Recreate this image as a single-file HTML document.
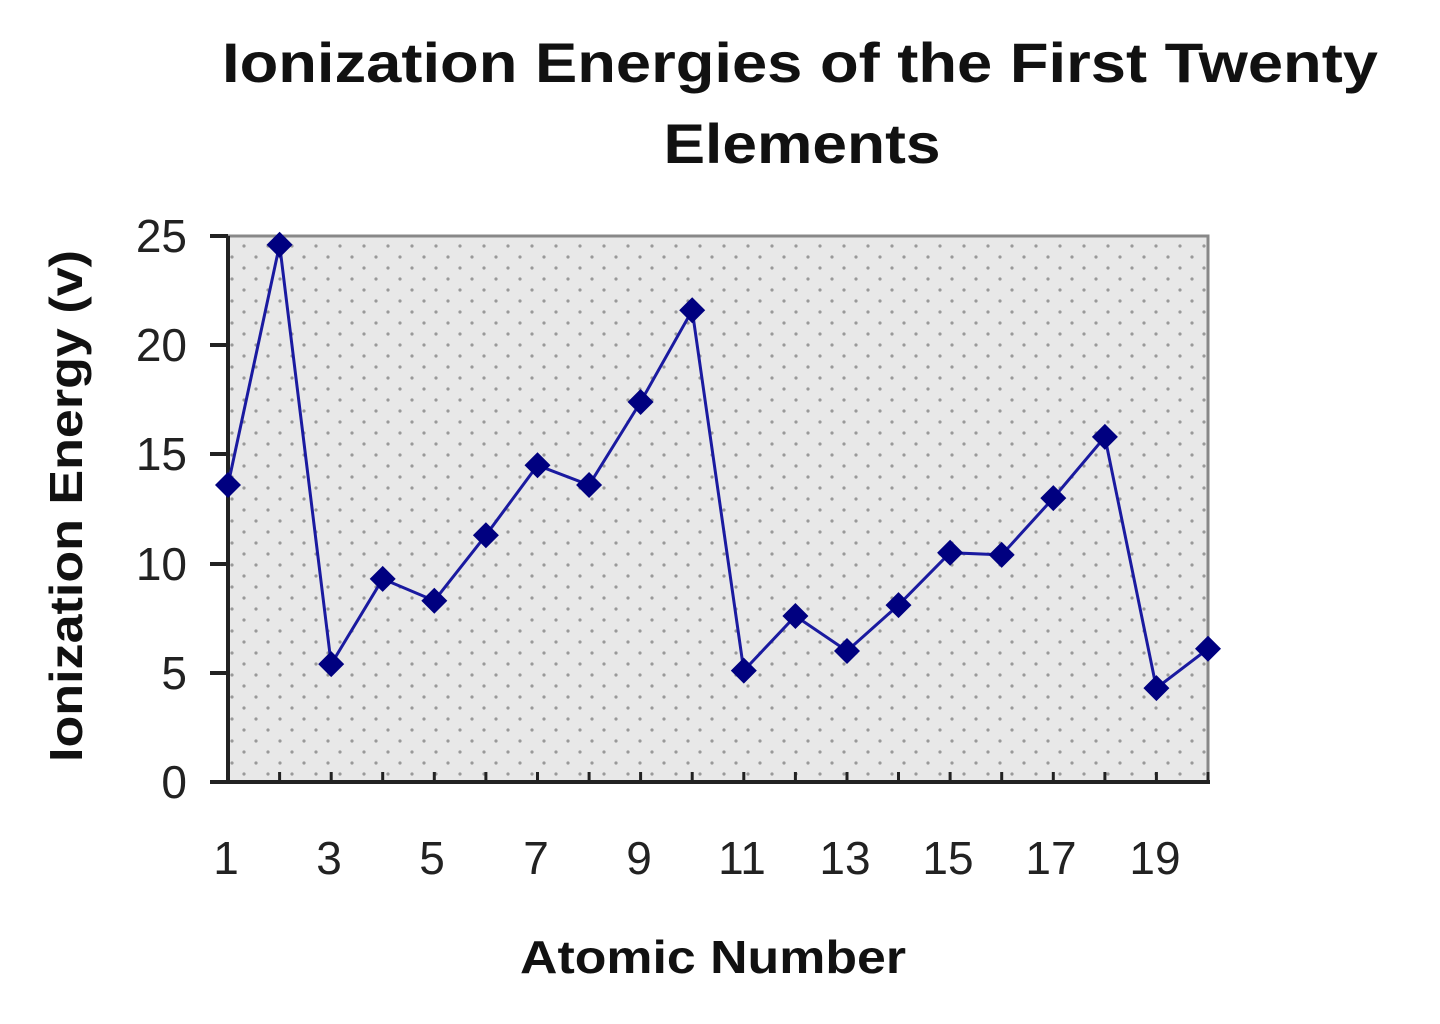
<!DOCTYPE html>
<html><head><style>body{margin:0;background:#fff}</style></head><body>
<svg width="1440" height="1019" xmlns="http://www.w3.org/2000/svg" font-family="Liberation Sans, Arial, sans-serif">
<defs>
<pattern id="p" width="24" height="22" patternUnits="userSpaceOnUse">
<rect width="24" height="22" fill="#e8e8e8"/>
<circle cx="4" cy="4" r="1.6" fill="#999"/>
<circle cx="16" cy="15" r="1.6" fill="#999"/>
</pattern>
<path id="d" d="M0 -13L13 0L0 13L-13 0Z" fill="#000080"/>
</defs>
<text x="800" y="82" font-size="56" font-weight="bold" text-anchor="middle" fill="#111" textLength="1156" lengthAdjust="spacingAndGlyphs">Ionization Energies of the First Twenty</text>
<text x="802" y="163" font-size="56" font-weight="bold" text-anchor="middle" fill="#111" textLength="277" lengthAdjust="spacingAndGlyphs">Elements</text>
<rect x="228" y="236" width="980" height="546" fill="url(#p)" stroke="#888" stroke-width="3"/>
<g stroke="#222" stroke-width="4">
<line x1="228" y1="236" x2="228" y2="784"/>
<line x1="226" y1="782" x2="1210" y2="782"/>
<line x1="210" y1="236" x2="228" y2="236"/>
<line x1="210" y1="345" x2="228" y2="345"/>
<line x1="210" y1="454" x2="228" y2="454"/>
<line x1="210" y1="564" x2="228" y2="564"/>
<line x1="210" y1="673" x2="228" y2="673"/>
<line x1="210" y1="782" x2="228" y2="782"/>
</g>
<g stroke="#222" stroke-width="3">
<line x1="279.6" y1="782" x2="279.6" y2="772"/><line x1="331.2" y1="782" x2="331.2" y2="772"/><line x1="382.7" y1="782" x2="382.7" y2="772"/><line x1="434.3" y1="782" x2="434.3" y2="772"/><line x1="485.9" y1="782" x2="485.9" y2="772"/><line x1="537.5" y1="782" x2="537.5" y2="772"/><line x1="589.1" y1="782" x2="589.1" y2="772"/><line x1="640.6" y1="782" x2="640.6" y2="772"/><line x1="692.2" y1="782" x2="692.2" y2="772"/><line x1="743.8" y1="782" x2="743.8" y2="772"/><line x1="795.4" y1="782" x2="795.4" y2="772"/><line x1="847" y1="782" x2="847" y2="772"/><line x1="898.5" y1="782" x2="898.5" y2="772"/><line x1="950.1" y1="782" x2="950.1" y2="772"/><line x1="1001.7" y1="782" x2="1001.7" y2="772"/><line x1="1053.3" y1="782" x2="1053.3" y2="772"/><line x1="1104.9" y1="782" x2="1104.9" y2="772"/><line x1="1156.4" y1="782" x2="1156.4" y2="772"/><line x1="1208" y1="782" x2="1208" y2="772"/>
</g>
<g font-size="46" fill="#222" text-anchor="end">
<text x="187" y="252">25</text><text x="187" y="361">20</text><text x="187" y="470">15</text>
<text x="187" y="580">10</text><text x="187" y="689">5</text><text x="187" y="798">0</text>
</g>
<g font-size="46" fill="#222" text-anchor="middle">
<text x="226" y="874">1</text><text x="329" y="874">3</text><text x="432" y="874">5</text><text x="536" y="874">7</text><text x="639" y="874">9</text><text x="742" y="874">11</text><text x="845" y="874">13</text><text x="948" y="874">15</text><text x="1051" y="874">17</text><text x="1155" y="874">19</text>
</g>
<text x="713" y="973" font-size="46" font-weight="bold" text-anchor="middle" fill="#111" textLength="386" lengthAdjust="spacingAndGlyphs">Atomic Number</text>
<text transform="translate(82,506) rotate(-90)" font-size="46" font-weight="bold" text-anchor="middle" fill="#111" textLength="512" lengthAdjust="spacingAndGlyphs">Ionization Energy (v)</text>
<polyline fill="none" stroke="#1a1aa0" stroke-width="3" points="228,485 279.6,244.7 331.2,664.1 382.7,578.9 434.3,600.7 485.9,535.2 537.5,465.3 589.1,485 640.6,402 692.2,310.3 743.8,670.6 795.4,616 847,651 898.5,605.1 950.1,552.7 1001.7,554.9 1053.3,498.1 1104.9,436.9 1156.4,688.1 1208,648.8"/>
<g>
<use href="#d" x="228" y="485"/><use href="#d" x="279.6" y="244.7"/><use href="#d" x="331.2" y="664.1"/><use href="#d" x="382.7" y="578.9"/><use href="#d" x="434.3" y="600.7"/><use href="#d" x="485.9" y="535.2"/><use href="#d" x="537.5" y="465.3"/><use href="#d" x="589.1" y="485"/><use href="#d" x="640.6" y="402"/><use href="#d" x="692.2" y="310.3"/><use href="#d" x="743.8" y="670.6"/><use href="#d" x="795.4" y="616"/><use href="#d" x="847" y="651"/><use href="#d" x="898.5" y="605.1"/><use href="#d" x="950.1" y="552.7"/><use href="#d" x="1001.7" y="554.9"/><use href="#d" x="1053.3" y="498.1"/><use href="#d" x="1104.9" y="436.9"/><use href="#d" x="1156.4" y="688.1"/><use href="#d" x="1208" y="648.8"/>
</g>
</svg>
</body></html>
